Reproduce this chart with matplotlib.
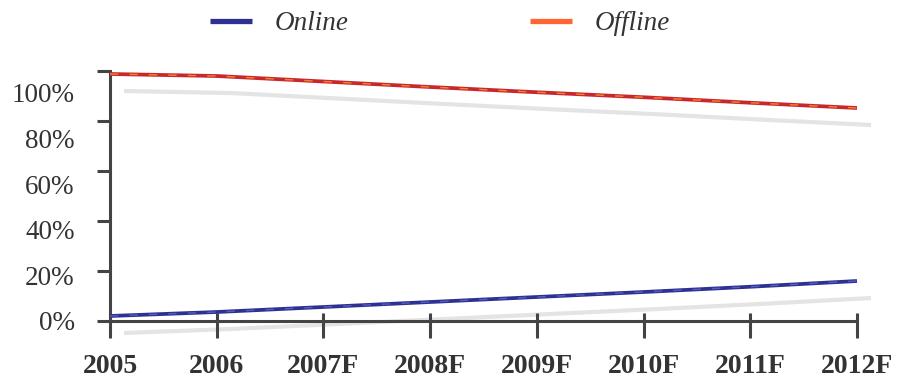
import matplotlib
matplotlib.use("Agg")
import matplotlib.pyplot as plt
from matplotlib.transforms import offset_copy
from matplotlib.lines import Line2D

years = ["2005", "2006", "2007F", "2008F", "2009F", "2010F", "2011F", "2012F"]
online = [2.0, 3.6, 5.6, 7.6, 9.6, 11.6, 13.7, 16.0]
offline = [98.8, 98.0, 95.8, 93.6, 91.5, 89.5, 87.3, 85.2]
pct_ticks = [0, 20, 40, 60, 80, 100]
pct_labels = ["0%", "20%", "40%", "60%", "80%", "100%"]

series_names = ["Online", "Offline"]
base_colors = ["#2e3192", "#c8282d"]
dash_colors = ["#5a6ad0", "#ff9a2e"]
legend_colors = ["#2e3192", "#ff6633"]
shadow_color = "#e4e4e4"
axis_color = "#444444"
text_color = "#333333"

plt.rcParams["font.family"] = ["Liberation Serif", "DejaVu Serif"]

fig = plt.figure(figsize=(9, 3.8), dpi=100)
ax = fig.add_axes([110 / 900, 59 / 380, 747 / 900, 250 / 380])
x = list(range(len(years)))

# soft drop shadows under each line
shadow_tr = offset_copy(ax.transData, fig=fig, x=14, y=-17, units="dots")
for vals in (online, offline):
    ax.plot(x, vals, color=shadow_color, lw=3.0, transform=shadow_tr,
            clip_on=False, zorder=1, solid_capstyle="butt")

for vals, c1, c2 in zip((online, offline), base_colors, dash_colors):
    ax.plot(x, vals, color=c1, lw=2.7, clip_on=False, zorder=3,
            solid_capstyle="butt")
    ax.plot(x, vals, color=c2, lw=1.0, ls=(0, (6, 8)), alpha=0.8,
            clip_on=False, zorder=4)

ax.set_xlim(0, len(years) - 1)
ax.set_ylim(0, 100)
for side in ("top", "right"):
    ax.spines[side].set_visible(False)
for side in ("left", "bottom"):
    ax.spines[side].set_color(axis_color)
    ax.spines[side].set_linewidth(2.2)
    ax.spines[side].set_zorder(2)

ax.set_xticks(x)
ax.set_xticklabels(years, fontsize=20, fontweight="bold", color=text_color)
ax.set_xticks(x, minor=True)
ax.xaxis.remove_overlapping_locs = False
ax.tick_params(axis="x", which="major", direction="out", length=12.5,
               width=2.2, color=axis_color, pad=11)
ax.tick_params(axis="x", which="minor", direction="in", length=6,
               width=2.2, color=axis_color)

ax.set_yticks(pct_ticks)
ax.tick_params(axis="y", direction="out", length=9.5, width=2.2,
               color=axis_color, labelleft=False)

# percentage labels on their own compressed scale
lab = ax.twinx()
lab.set_position(ax.get_position())
lab.set_ylim(0.8 / 0.92, 100.8 / 0.92)
lab.set_yticks(pct_ticks)
lab.set_yticklabels(pct_labels, fontsize=19.5, color=text_color)
lab.yaxis.tick_left()
lab.tick_params(axis="y", length=0, pad=25.5)
ax.tick_params(axis="y", labelleft=False)
for s in lab.spines.values():
    s.set_visible(False)

handles = [Line2D([], [], color=c, lw=3.8, solid_capstyle="butt")
           for c in legend_colors]
fig.legend(handles, series_names, loc="center",
           bbox_to_anchor=(440 / 900, 1 - 24 / 380), ncol=2, frameon=False,
           prop={"family": "Liberation Serif", "style": "italic", "size": 19.5},
           labelcolor=text_color, handlelength=1.55, handletextpad=0.85,
           columnspacing=6.7)

fig.savefig("out.png", dpi=100, facecolor="white")
